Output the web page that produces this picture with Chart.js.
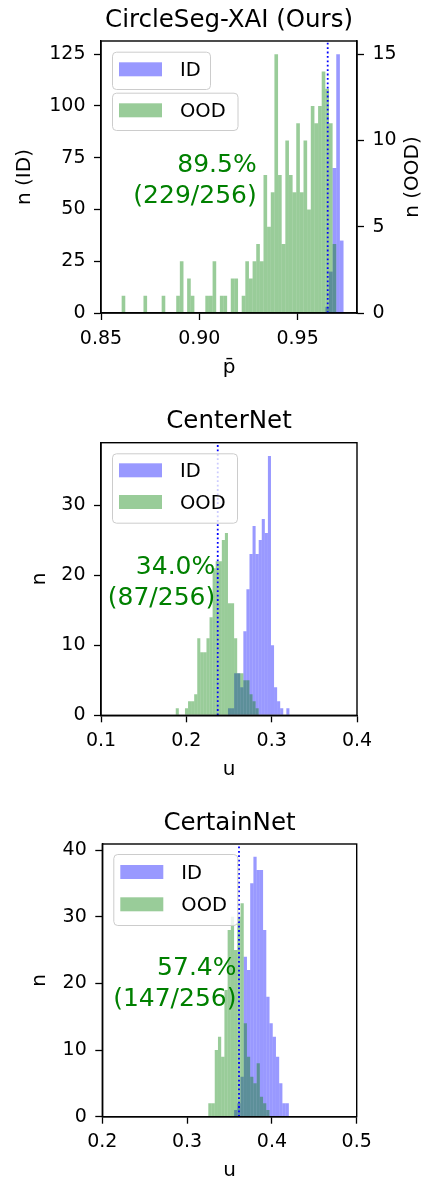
<!DOCTYPE html>
<html>
<head>
<meta charset="utf-8">
<script src="https://cdn.jsdelivr.net/npm/chart.js@4.4.1/dist/chart.umd.min.js"></script>
<style>
  html, body { margin: 0; padding: 0; background: #fff; overflow: hidden; }
  body { width: 428px; height: 1180px; position: relative; }
  canvas { position: absolute; left: 0; }
</style>
</head>
<body>
<canvas id="c1" width="428" height="390" style="top:0px"></canvas>
<canvas id="c2" width="428" height="395" style="top:395px"></canvas>
<canvas id="c3" width="428" height="395" style="top:790px"></canvas>
<script>
// ---- panel 1 : CircleSeg-XAI (Ours), p-bar, ID on left axis, OOD on right axis
const p1Title = 'CircleSeg-XAI (Ours)';
const p1BinStart = 0.8605, p1BinWidth = 0.00185;
const p1Ood = [1,0,0,0,0,0,1,0,0,0, 0,1,0,0,0,1,3,0,2,1, 0,0,0,1,1,3,0,1,1,0,
               2,2,0,1,3,2,3,4,3,8, 5,7,15,8,4,10,8,7,11,7, 10,6,12,11,12,14,13,11,4,0, 0,0];
const p1Id  = [0,0,0,0,0,0,0,0,0,0, 0,0,0,0,0,0,0,0,0,0, 0,0,0,0,0,0,0,0,0,0,
               0,0,0,0,0,0,0,0,0,0, 0,0,0,0,0,0,0,0,0,0, 0,0,0,0,0,0,3,20,70,125, 35,0];
const p1Threshold = 0.9653;
const p1XTicks = [0.85, 0.90, 0.95];
const p1YTicks = [0, 25, 50, 75, 100, 125];
const p1Y2Ticks = [0, 5, 10, 15];
const p1Text = ['89.5%', '(229/256)'];

// ---- panel 2 : CenterNet, u
const p2Title = 'CenterNet';
const p2BinStart = 0.184, p2BinWidth = 0.0036;
const p2Ood = [0,1,0,0,1,2,2,3,11,9, 9,11,14,21,22,22,25,26,16,16, 11,6,6,5,5,3,2,1,0,0, 0,0,0,0,0,0,0,0,0];
const p2Id  = [0,0,0,0,0,0,0,0,0,0, 0,0,0,0,0,0,0,0,1,1, 6,6,4,12,18,23,27,23,25,28, 26,37,10,4,2,1,0,1,0];
const p2Threshold = 0.2368;
const p2XTicks = [0.1, 0.2, 0.3, 0.4];
const p2YTicks = [0, 10, 20, 30];
const p2Text = ['34.0%', '(87/256)'];

// ---- panel 3 : CertainNet, u
const p3Title = 'CertainNet';
const p3BinStart = 0.325, p3BinWidth = 0.0038;
const p3Ood = [2,2,10,12,9,19,28,30,25,30, 32,14,9,6,5,8,3,2,1,0, 0,0,0,0,0,0];
const p3Id  = [0,0,0,0,0,0,0,0,1,2, 6,24,22,35,39,37,37,28,18,14, 12,9,5,2,2,0];
const p3Threshold = 0.3612;
const p3XTicks = [0.2, 0.3, 0.4, 0.5];
const p3YTicks = [0, 10, 20, 30, 40];
const p3Text = ['57.4%', '(147/256)'];

const FONT = "'DejaVu Sans', sans-serif";
const ID_COLOR = 'rgba(0,0,255,0.4)';
const OOD_COLOR = 'rgba(0,128,0,0.4)';

function drawLegend(ctx, x, y, w, h, items) {
  ctx.fillStyle = 'rgba(255,255,255,0.8)';
  ctx.strokeStyle = '#cccccc';
  ctx.lineWidth = 1;
  ctx.beginPath();
  ctx.roundRect(x + 0.5, y + 0.5, w, h, 4);
  ctx.fill();
  ctx.stroke();
  items.forEach(it => {
    ctx.fillStyle = it.color;
    ctx.fillRect(x + 7, y + it.py, 43, 14);
    ctx.fillStyle = '#000';
    ctx.font = '19.5px ' + FONT;
    ctx.textAlign = 'left';
    ctx.textBaseline = 'alphabetic';
    ctx.fillText(it.label, x + 68, y + it.py + 14);
  });
}

// threshold line, frame, title, percentage text and legend
function makeDecor(o) {
  return {
    id: 'decor',
    afterDatasetsDraw(chart) {
      const { ctx, chartArea: a, scales } = chart;
      const tx = scales.x.getPixelForValue(o.threshold);
      const cy = (a.top + a.bottom) / 2;
      ctx.save();
      ctx.strokeStyle = '#0000ff';
      ctx.lineWidth = 1.8;
      ctx.setLineDash([1.8, 2.6]);
      ctx.beginPath();
      ctx.moveTo(tx, a.bottom);
      ctx.lineTo(tx, a.top);
      ctx.stroke();
      ctx.setLineDash([]);

      ctx.strokeStyle = '#000';
      ctx.lineWidth = 1.4;
      ctx.strokeRect(a.left, a.top, a.right - a.left, a.bottom - a.top);

      ctx.fillStyle = '#000';
      ctx.font = '24.5px ' + FONT;
      ctx.textAlign = 'center';
      ctx.textBaseline = 'alphabetic';
      ctx.fillText(o.title, (a.left + a.right) / 2, a.top - 14.3);

      // right axis label reads bottom to top, like the left one
      if (o.twin) {
        ctx.save();
        ctx.translate(412.5, cy);
        ctx.rotate(-Math.PI / 2);
        ctx.font = '20px ' + FONT;
        ctx.textBaseline = 'middle';
        ctx.fillText(o.y2Label, 0, 0);
        ctx.restore();
      }

      const ax = o.textAt != null ? scales.x.getPixelForValue(o.textAt) : tx - 2.5;
      ctx.fillStyle = '#008000';
      ctx.font = '25px ' + FONT;
      ctx.textAlign = 'right';
      ctx.textBaseline = 'alphabetic';
      ctx.fillText(o.text[0], ax, cy - 5);
      ctx.fillText(o.text[1], ax, cy + 25.5);

      o.legend.forEach(b => drawLegend(ctx, a.left + 11, a.top + b.dy, b.w, b.h, b.items));
      ctx.restore();
    }
  };
}

function axisY(o) {
  return {
    type: 'linear',
    position: o.position,
    min: 0,
    max: o.max,
    afterBuildTicks: s => { s.ticks = o.ticks.map(v => ({ value: v })); },
    afterFit: s => { s.width = o.width; },
    ticks: { font: { family: FONT, size: 19 }, color: '#000', padding: 8.5 },
    grid: { offset: false, drawOnChartArea: false, drawTicks: true, tickLength: 7, tickColor: '#000', tickWidth: 1.3 },
    border: { color: '#000', width: 1.4 },
    title: { display: !!o.label, text: o.label, font: { family: FONT, size: 20 }, color: '#000', padding: { top: o.titlePad, bottom: 0 } }
  };
}

function histPanel(id, o) {
  const toPts = arr => arr.map((n, i) => ({ x: o.binStart + (i + 0.5) * o.binWidth, y: n }));
  const barOpts = { barPercentage: 1, categoryPercentage: 1, grouped: false, borderWidth: 0, inflateAmount: 0 };
  const scales = {
    x: {
      type: 'linear',
      min: o.xMin,
      max: o.xMax,
      offset: false,
      afterBuildTicks: s => { s.ticks = o.xTicks.map(v => ({ value: v })); },
      afterFit: s => { s.height = o.xAxisH; },
      ticks: { font: { family: FONT, size: 19 }, color: '#000', padding: 7.3, maxRotation: 0, autoSkip: false,
               callback: v => v.toFixed(o.xDec) },
      grid: { offset: false, drawOnChartArea: false, drawTicks: true, tickLength: 7, tickColor: '#000', tickWidth: 1.3 },
      border: { color: '#000', width: 1.4 },
      title: { display: true, text: o.xLabel, font: { family: FONT, size: 20 }, color: '#000',
               padding: { top: 0, bottom: o.xAxisH - 54.3 - 12 } }
    },
    y: axisY({ position: 'left', max: o.yMax, ticks: o.yTicks, width: o.yAxisW, label: o.yLabel, titlePad: o.yTitlePad })
  };
  if (o.twin) {
    scales.y2 = axisY({ position: 'right', max: o.y2Max, ticks: o.y2Ticks, width: 428 - o.right, label: '', titlePad: 0 });
  }
  new Chart(document.getElementById(id), {
    type: 'bar',
    data: {
      datasets: [
        Object.assign({ label: 'OOD', data: toPts(o.ood), backgroundColor: OOD_COLOR, yAxisID: o.twin ? 'y2' : 'y', order: 1 }, barOpts),
        Object.assign({ label: 'ID', data: toPts(o.id), backgroundColor: ID_COLOR, yAxisID: 'y', order: 2 }, barOpts)
      ]
    },
    options: {
      responsive: false,
      animation: false,
      devicePixelRatio: 1,
      layout: { padding: { top: o.top, left: 0, right: o.twin ? 0 : 428 - o.right, bottom: 0 } },
      plugins: { legend: { display: false }, title: { display: false }, tooltip: { enabled: false } },
      scales: scales
    },
    plugins: [makeDecor(o)]
  });
}

histPanel('c1', {
  title: p1Title, binStart: p1BinStart, binWidth: p1BinWidth, ood: p1Ood, id: p1Id,
  threshold: p1Threshold, text: p1Text, textAt: 0.9292,
  xMin: 0.85, xMax: 0.9802, xTicks: p1XTicks, xDec: 2, xLabel: 'p\u0304',
  yMax: 131.4, yTicks: p1YTicks, yLabel: 'n (ID)', yTitlePad: 13,
  twin: true, y2Max: 15.77, y2Ticks: p1Y2Ticks, y2Label: 'n (OOD)',
  top: 41, right: 357, yAxisW: 101, xAxisH: 77,
  legend: [
    { dy: 10.7, w: 98, h: 37.3, items: [{ label: 'ID', color: ID_COLOR, py: 10.6 }] },
    { dy: 51.7, w: 125.5, h: 37.3, items: [{ label: 'OOD', color: OOD_COLOR, py: 10.6 }] }
  ]
});

histPanel('c2', {
  title: p2Title, binStart: p2BinStart, binWidth: p2BinWidth, ood: p2Ood, id: p2Id,
  threshold: p2Threshold, text: p2Text,
  xMin: 0.1, xMax: 0.4, xTicks: p2XTicks, xDec: 1, xLabel: 'u',
  yMax: 38.9, yTicks: p2YTicks, yLabel: 'n', yTitlePad: 28,
  twin: false, top: 47.7, right: 357, yAxisW: 101, xAxisH: 74.7,
  legend: [
    { dy: 10.6, w: 125, h: 69.4, items: [{ label: 'ID', color: ID_COLOR, py: 10 }, { label: 'OOD', color: OOD_COLOR, py: 41.7 }] }
  ]
});

histPanel('c3', {
  title: p3Title, binStart: p3BinStart, binWidth: p3BinWidth, ood: p3Ood, id: p3Id,
  threshold: p3Threshold, text: p3Text,
  xMin: 0.2, xMax: 0.5, xTicks: p3XTicks, xDec: 1, xLabel: 'u',
  yMax: 40.9, yTicks: p3YTicks, yLabel: 'n', yTitlePad: 28,
  twin: false, top: 54, right: 356.7, yAxisW: 102.3, xAxisH: 68.3,
  legend: [
    { dy: 10, w: 124, h: 71, items: [{ label: 'ID', color: ID_COLOR, py: 11 }, { label: 'OOD', color: OOD_COLOR, py: 43.3 }] }
  ]
});
</script>
</body>
</html>
